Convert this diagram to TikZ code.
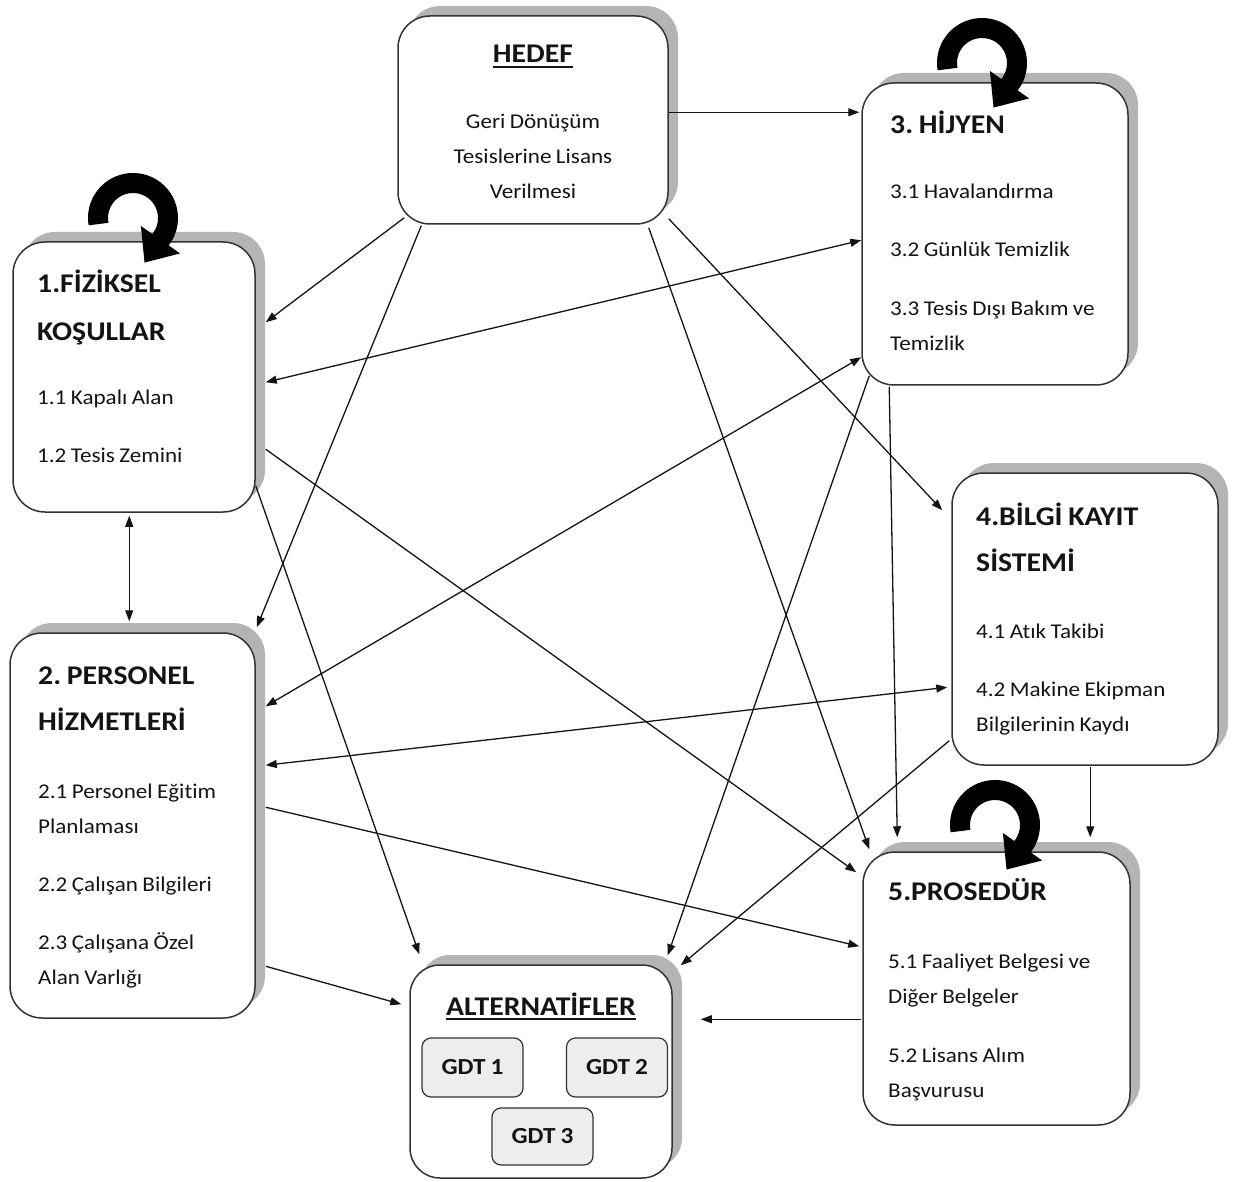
\documentclass[tikz,border=0pt]{standalone}
\usepackage{fontspec}
\setmainfont{Carlito}[FakeStretch=1.1, Ligatures=CommonOff, WordSpace=0.85]
\usetikzlibrary{arrows.meta,shadows}
\definecolor{ink}{HTML}{141414}
\definecolor{shade}{HTML}{B4B4B4}
\definecolor{edge}{HTML}{333333}
\definecolor{chip}{HTML}{EDEDED}
\frenchspacing

\begin{document}
\begin{tikzpicture}[x=1pt,y=-1pt,
  box/.style={rectangle, rounded corners=32pt, draw=edge, line width=1.5pt, fill=white, inner sep=0pt,
    general shadow={fill=shade, shadow xshift=10pt, shadow yshift=10pt}},
  chipbox/.style={rectangle, rounded corners=9pt, draw=edge, line width=1.2pt, fill=chip, inner sep=0pt,
    minimum width=101pt, minimum height=59pt, font=\fontsize{23}{23}\selectfont\bfseries, text=ink},
  title/.style={anchor=base west, inner sep=0pt, font=\fontsize{27}{30}\selectfont\bfseries, text=ink},
  body/.style={anchor=base west, inner sep=0pt, font=\fontsize{21}{24}\selectfont, text=ink},
  arr/.style={draw=ink, line width=1.3pt, -{Triangle[length=11pt,width=8pt]}},
  dbl/.style={draw=ink, line width=1.3pt, {Triangle[length=11pt,width=8pt]}-{Triangle[length=11pt,width=8pt]}},
  selfloop/.style={draw=black, line width=20pt, -{Triangle[length=28pt,width=46pt]}},
  uline/.style={draw=ink, line width=2.2pt},
]
\useasboundingbox (0,0) rectangle (1243,1182);
\fill[white] (0,0) rectangle (1243,1182);

% ---------- boxes ----------
\node[box, minimum width=270pt, minimum height=208pt] (hedef) at (533,120) {};
\node[box, minimum width=242pt, minimum height=270pt] (b1) at (134,377) {};
\node[box, minimum width=245pt, minimum height=385pt] (b2) at (132.5,825.5) {};
\node[box, minimum width=266pt, minimum height=302pt] (b3) at (995,234) {};
\node[box, minimum width=266pt, minimum height=292pt] (b4) at (1085,619) {};
\node[box, minimum width=267pt, minimum height=273pt] (b5) at (996.5,988.5) {};
\node[box, minimum width=262pt, minimum height=213pt, rounded corners=30pt] (alt) at (541,1071.5) {};

% ---------- goal ----------
\node[title, anchor=base] (h-t) at (533,63) {HEDEF};
\draw[uline] ([yshift=-4pt]h-t.base west) -- ([yshift=-4pt]h-t.base east);
\node[body, anchor=base] (h-1) at (533,129) {Geri Dönüşüm};
\node[body, anchor=base] (h-2) at (533,164) {Tesislerine Lisans};
\node[body, anchor=base] (h-3) at (533,199) {Verilmesi};

% ---------- criterion 1 ----------
\node[title] (b1-t1) at (37,293) {1.FİZİKSEL};
\node[title] (b1-t2) at (37,341) {KOŞULLAR};
\node[body] (b1-1) at (37,405) {1.1 Kapalı Alan};
\node[body] (b1-2) at (37,462) {1.2 Tesis Zemini};

% ---------- criterion 2 ----------
\node[title] (b2-t1) at (38,684) {2. PERSONEL};
\node[title] (b2-t2) at (38,730) {HİZMETLERİ};
\node[body] (b2-1) at (38,798) {2.1 Personel Eğitim};
\node[body] (b2-2) at (38,833) {Planlaması};
\node[body] (b2-3) at (38,891) {2.2 Çalışan Bilgileri};
\node[body] (b2-4) at (38,949) {2.3 Çalışana Özel};
\node[body] (b2-5) at (38,984) {Alan Varlığı};

% ---------- criterion 3 ----------
\node[title] (b3-t1) at (890,134) {3. HİJYEN};
\node[body] (b3-1) at (890,199) {3.1 Havalandırma};
\node[body] (b3-2) at (890,257) {3.2 Günlük Temizlik};
\node[body] (b3-3) at (890,316) {3.3 Tesis Dışı Bakım ve};
\node[body] (b3-4) at (890,351) {Temizlik};

% ---------- criterion 4 ----------
\node[title] (b4-t1) at (976,525) {4.BİLGİ KAYIT};
\node[title] (b4-t2) at (976,571) {SİSTEMİ};
\node[body] (b4-1) at (976,638) {4.1 Atık Takibi};
\node[body] (b4-2) at (976,696) {4.2 Makine Ekipman};
\node[body] (b4-3) at (976,731) {Bilgilerinin Kaydı};

% ---------- criterion 5 ----------
\node[title] (b5-t1) at (888,900) {5.PROSEDÜR};
\node[body] (b5-1) at (888,968) {5.1 Faaliyet Belgesi ve};
\node[body] (b5-2) at (888,1003) {Diğer Belgeler};
\node[body] (b5-3) at (888,1062) {5.2 Lisans Alım};
\node[body] (b5-4) at (888,1097) {Başvurusu};

% ---------- alternatives ----------
\node[title, anchor=base] (a-t) at (541,1015) {ALTERNATİFLER};
\draw[uline] ([yshift=-4pt]a-t.base west) -- ([yshift=-4pt]a-t.base east);
\node[chipbox] (g1) at (472.5,1067.5) {GDT 1};
\node[chipbox] (g2) at (617,1067.5) {GDT 2};
\node[chipbox, minimum height=57pt] (g3) at (542.5,1136.5) {GDT 3};

% ---------- connectors ----------
\draw[arr] ([shift={(0,97)}]hedef.north east) -- ([shift={(-2,30)}]b3.north west);
\draw[arr] ([shift={(7,-7)}]hedef.south west) -- ([shift={(10,81)}]b1.north east);
\draw[arr] ([shift={(24,1)}]hedef.south west) -- ([shift={(1,-5)}]b2.north east);
\draw[arr] ([shift={(-20,3)}]hedef.south east) -- ([shift={(7,-2)}]b5.north west);
\draw[arr] ([shift={(0,-6)}]hedef.south east) -- ([shift={(-9,38)}]b4.north west);
\draw[dbl] ([shift={(10,141)}]b1.north east) -- ([shift={(0,158)}]b3.north west);
\draw[dbl] ([shift={(10,74)}]b2.north east) -- ([shift={(0,275)}]b3.north west);
\draw[dbl] ([shift={(-4,215)}]b4.north west) -- ([shift={(10,133)}]b2.north east);
\draw[arr] ([shift={(10,208)}]b1.north east) -- ([shift={(-6,21)}]b5.north west);
\draw[arr] ([shift={(0,-27)}]b1.south east) -- ([shift={(10,-10)}]alt.north west);
\draw[dbl] ([shift={(117,3)}]b1.south west) -- ([shift={(120,-11)}]b2.north west);
\draw[arr] ([shift={(10,175)}]b2.north east) -- ([shift={(-3,95)}]b5.north west);
\draw[arr] ([shift={(10,334)}]b2.north east) -- ([shift={(-8,40)}]alt.north west);
\draw[arr] ([shift={(8,-10)}]b3.south west) -- ([shift={(-5,-9)}]alt.north east);
\draw[arr] ([shift={(28,1)}]b3.south west) -- ([shift={(35,-14)}]b5.north west);
\draw[arr] ([shift={(-2,-25)}]b4.south west) -- ([shift={(8,1)}]alt.north east);
\draw[arr] ([shift={(139,1)}]b4.south west) -- ([shift={(228,-14)}]b5.north west);
\draw[arr] ([shift={(-1,168)}]b5.north west) -- ([shift={(28,55)}]alt.north east);

% ---------- feedback loops ----------
\draw[selfloop] (133,218) ++(170:35) arc[start angle=170, end angle=395, radius=35] -- ++(-17.2,24.6);
\draw[selfloop] (982,63) ++(170:35) arc[start angle=170, end angle=395, radius=35] -- ++(-17.2,24.6);
\draw[selfloop] (995,825) ++(170:35) arc[start angle=170, end angle=395, radius=35] -- ++(-17.2,24.6);
\end{tikzpicture}
\end{document}
